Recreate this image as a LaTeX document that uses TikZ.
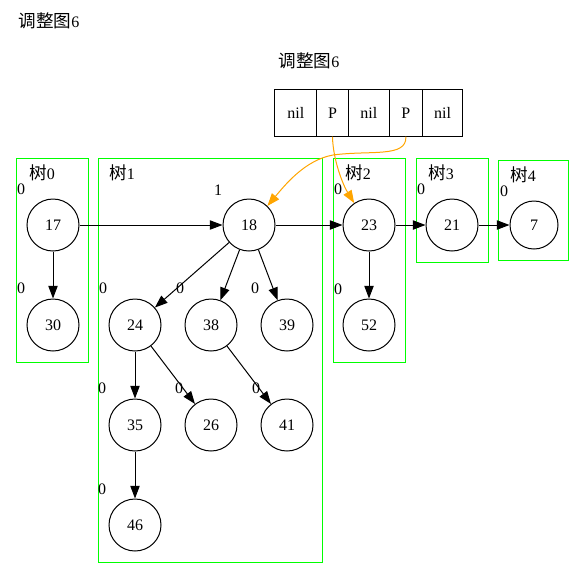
\documentclass[tikz,border=0pt]{standalone}
\usepackage{fontspec}
\setmainfont{Liberation Serif}
\newfontfamily\cjk{Noto Sans CJK SC}[Scale=1.1]
\usepackage{xcolor}
\usetikzlibrary{positioning, calc, arrows.meta}
\definecolor{gvorange}{RGB}{255,165,0}
\definecolor{gvgreen}{RGB}{0,255,0}

\begin{document}
\begin{tikzpicture}[x=0.75pt, y=-0.75pt, line width=0.75pt,
    font=\fontsize{12}{14}\selectfont,
    vert/.style={circle, draw, minimum size=39pt, inner sep=0pt},
    cell/.style={draw, minimum height=35.7pt, inner sep=0pt, outer sep=0pt},
    clus/.style={draw=gvgreen},
    xlab/.style={inner sep=0pt},
    tree/.style={-{Triangle[length=9.5pt,width=7pt]}},
    ptr/.style={gvorange, -{Triangle[length=9.5pt,width=7pt]}}]
    \useasboundingbox (0,0) rectangle (584,579);

    \node (title) at (49,21) {{\cjk 调整图}6};
    \node (gtitle) at (309,61) {{\cjk 调整图}6};

    % root list
    \node[cell, minimum width=31.3pt] (c1) at (295.8,112.8) {nil};
    \node[cell, minimum width=23.7pt, right=0pt of c1] (c2) {P};
    \node[cell, minimum width=30.8pt, right=0pt of c2] (c3) {nil};
    \node[cell, minimum width=24.8pt, right=0pt of c3] (c4) {P};
    \node[cell, minimum width=30.3pt, right=0pt of c4] (c5) {nil};

    % clusters
    \draw[clus] (16,158) rectangle (88,362);
    \draw[clus] (98,158) rectangle (322,562);
    \draw[clus] (333,158) rectangle (405,362);
    \draw[clus] (416,158) rectangle (488,262);
    \draw[clus] (498,160) rectangle (568,260);
    \node (t0) at (42,173) {{\cjk 树}0};
    \node (t1) at (122,173) {{\cjk 树}1};
    \node (t2) at (358,173) {{\cjk 树}2};
    \node (t3) at (441,173) {{\cjk 树}3};
    \node (t4) at (523,175) {{\cjk 树}4};

    % vertices
    \foreach \n/\x/\y in {17/53/225, 30/53/325, 18/249/225, 24/135/325, 38/211/325,
        39/287/325, 35/135/425, 26/211/425, 41/287/425, 46/135/525,
        23/369/225, 52/369/325, 21/452/225}
        \node[vert] (n\n) at (\x,\y) {\n};
    \node[vert, minimum size=36pt] (n7) at (534,225) {7};

    % degree marks
    \foreach \n/\x/\y/\t in {17/21/189/0, 30/21/288/0, 18/218/190/1, 24/103/288/0,
        38/180/288/0, 39/255/288/0, 35/102/388/0, 26/179/388/0, 41/256/388/0,
        46/102/489/0, 23/338/189/0, 52/338/289/0, 21/421/189/0, 7/504/191/0}
        \node[xlab] (l\n) at (\x,\y) {\t};

    \foreach \a/\b in {17/18, 18/23, 23/21, 21/7, 17/30, 18/24, 18/38, 18/39,
        24/35, 24/26, 38/41, 35/46, 23/52}
        \draw[tree] (n\a) -- (n\b);

    \draw[ptr] (c2.south) .. controls (333,160) and (343,185) .. (n23.124);
    \draw[ptr] (c4.south) .. controls (407,158) and (370,150) .. (333,155)
        .. controls (305,160) and (285,185) .. (n18.46);
\end{tikzpicture}
\end{document}
